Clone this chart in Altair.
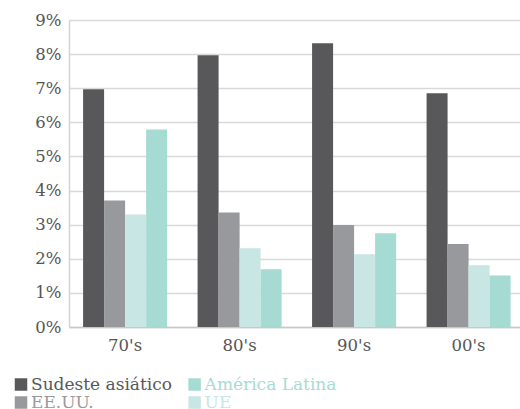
import altair as alt
import pandas as pd

# Average annual growth by decade and region (percent)
decades = ["70's", "80's", "90's", "00's"]
series = ["Sudeste asiático", "EE.UU.", "UE", "América Latina"]
sudeste = [6.97, 7.97, 8.32, 6.85]
eeuu = [3.71, 3.36, 2.99, 2.43]
ue = [3.30, 2.31, 2.13, 1.81]
latam = [5.79, 1.69, 2.75, 1.51]
colors = ["#58585a", "#98999c", "#c8e6e4", "#a6dbd4"]

# Legend layout: two columns, two rows
legend_labels = ["Sudeste asiático", "EE.UU.", "América Latina", "UE"]
legend_cols = [0, 0, 1, 1]
legend_rows = [0, 1, 0, 1]

rows = []
for name, vals in zip(series, [sudeste, eeuu, ue, latam]):
    for d, v in zip(decades, vals):
        rows.append({"decade": d, "series": name, "value": v / 100})
df = pd.DataFrame(rows)

leg = pd.DataFrame({"series": legend_labels, "col": legend_cols, "row": legend_rows})

FONT = "DejaVu Serif"
TEXT = "#555555"

color = alt.Color("series:N", scale=alt.Scale(domain=series, range=colors), legend=None)

bars = alt.Chart(df).mark_bar().encode(
    x=alt.X("decade:N", sort=decades, title=None,
            scale=alt.Scale(paddingInner=0.266, paddingOuter=0.1025, align=0.6),
            axis=alt.Axis(labelAngle=0, labelFont=FONT, labelFontSize=16.5, labelFontWeight="normal",
                          labelColor=TEXT, ticks=False, tickSize=0, labelPadding=10,
                          domainColor="#c8c8c8", domainWidth=1.5, grid=False)),
    xOffset=alt.XOffset("series:N", sort=series, scale=alt.Scale(paddingInner=0, paddingOuter=0)),
    y=alt.Y("value:Q", title=None, scale=alt.Scale(domain=[0, 0.09], nice=False),
            axis=alt.Axis(format=".0%", values=[i / 100 for i in range(10)], labelFont=FONT,
                          labelFontSize=16.5, labelFontWeight="normal", labelColor=TEXT,
                          ticks=False, tickSize=0, labelPadding=8,
                          domainColor="#d4d4d4", domainWidth=1.5,
                          gridColor="#d9d9d9", gridWidth=1.5)),
    color=color,
)

leg_x = alt.X("col:Q", scale=alt.Scale(domain=[0, 1], range=[-48, 125.6]), axis=None)
leg_y = alt.Y("row:Q", scale=alt.Scale(domain=[0, 1], range=[364.5, 382.5]), axis=None)

leg_sq = alt.Chart(leg).mark_square(size=156, opacity=1).encode(x=leg_x, y=leg_y, color=color)
leg_txt = alt.Chart(leg).mark_text(align="left", baseline="middle", dx=10, font=FONT,
                                   fontSize=17, fontWeight="normal").encode(
    x=leg_x, y=leg_y, text="series:N", color=color)

chart = alt.layer(bars, leg_sq, leg_txt).resolve_scale(x="independent", y="independent").properties(
    width=451, height=307,
    autosize=alt.AutoSizeParams(type="none"),
    padding={"left": 69, "top": 20, "right": 0, "bottom": 82},
).configure_view(stroke=None)

chart.save("out.html", embed_options={"renderer": "svg", "actions": False})
